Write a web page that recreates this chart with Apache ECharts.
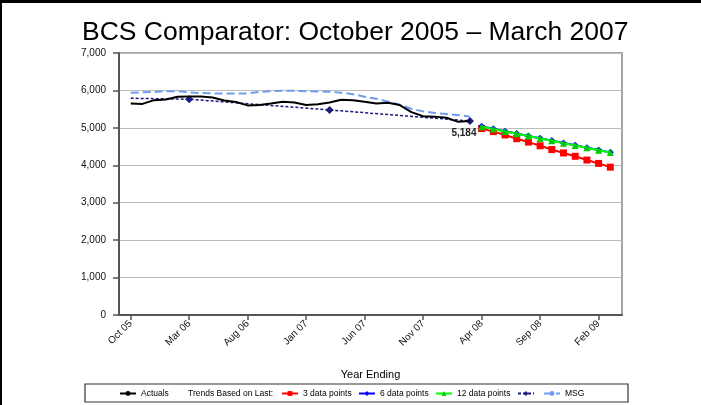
<!DOCTYPE html>
<html>
<head>
<meta charset="utf-8">
<script src="https://cdn.jsdelivr.net/npm/echarts@6/dist/echarts.min.js"></script>
<style>
  html, body { margin: 0; padding: 0; background: #fff; }
  #chart { width: 701px; height: 405px; }
</style>
</head>
<body>
<div id="chart"></div>
<script>
// month axis, Sep 05 .. Apr 09 (first and last are padding)
var months = ['Sep 05', 'Oct 05', 'Nov 05', 'Dec 05', 'Jan 06', 'Feb 06', 'Mar 06', 'Apr 06', 'May 06', 'Jun 06',
  'Jul 06', 'Aug 06', 'Sep 06', 'Oct 06', 'Nov 06', 'Dec 06', 'Jan 07', 'Feb 07', 'Mar 07', 'Apr 07',
  'May 07', 'Jun 07', 'Jul 07', 'Aug 07', 'Sep 07', 'Oct 07', 'Nov 07', 'Dec 07', 'Jan 08', 'Feb 08',
  'Mar 08', 'Apr 08', 'May 08', 'Jun 08', 'Jul 08', 'Aug 08', 'Sep 08', 'Oct 08', 'Nov 08', 'Dec 08',
  'Jan 09', 'Feb 09', 'Mar 09', 'Apr 09'];
var shownLabels = ['Oct 05', 'Mar 06', 'Aug 06', 'Jan 07', 'Jun 07', 'Nov 07', 'Apr 08', 'Sep 08', 'Feb 09'];

// Oct 05 .. Mar 08
var actuals = [5650, 5640, 5740, 5760, 5830, 5840, 5840, 5810, 5730, 5690,
  5600, 5610, 5650, 5700, 5680, 5610, 5630, 5680, 5750, 5740,
  5700, 5650, 5670, 5610, 5420, 5310, 5300, 5270, 5160, 5184];
var msg = [5940, 5950, 5960, 5980, 5980, 5950, 5930, 5920, 5920, 5920,
  5920, 5960, 5980, 5990, 5990, 5980, 5970, 5965, 5940, 5900,
  5830, 5780, 5700, 5620, 5510, 5440, 5400, 5370, 5340, 5300];

// yearly trend line (dark navy)
var trendMonths = ['Oct 05', 'Mar 06', 'Mar 07', 'Mar 08'];
var trendValues = [5790, 5765, 5478, 5184];

// Apr 08 .. Mar 09 projections
var trend3 = [4980, 4900, 4810, 4710, 4620, 4520, 4420, 4330, 4240, 4140, 4050, 3950];
var trend6 = [5040, 4976, 4912, 4848, 4785, 4722, 4659, 4596, 4533, 4470, 4406, 4345];
var trend12 = [5030, 4968, 4905, 4842, 4780, 4716, 4655, 4592, 4530, 4466, 4404, 4340];

function pad(values, startMonth) {
  var out = [];
  var start = months.indexOf(startMonth);
  for (var i = 0; i < months.length; i++) {
    var j = i - start;
    out.push(j >= 0 && j < values.length ? values[j] : null);
  }
  return out;
}

var font = 'Liberation Sans, Arial, sans-serif';
var chart = echarts.init(document.getElementById('chart'));

var trendData = trendMonths.map(function (m, i) {
  var item = { value: [m, trendValues[i]] };
  if (i === 0) item.symbol = 'none';
  if (i === trendMonths.length - 1) {
    item.label = {
      show: true, position: 'bottom', distance: 3, offset: [-6, 0],
      formatter: '5,184', fontSize: 10, fontWeight: 'bold', color: '#222', fontFamily: font
    };
  }
  return item;
});

var legendText = { fontSize: 8.5, color: '#000', fontFamily: font };
// one legend per entry so the spacing follows the original box
var legendSpots = [['Actuals', 119], ['3 data points', 281], ['6 data points', 358],
  ['12 data points', 435], [' ', 517], ['MSG', 543]];
var legends = legendSpots.map(function (s) {
  return {
    left: s[1], top: 389, padding: 0,
    itemWidth: 16, itemHeight: 6,
    textStyle: legendText,
    data: [s[0]]
  };
});

var option = {
  backgroundColor: '#fff',
  animation: false,
  title: {
    text: 'BCS Comparator: October 2005 \u2013 March 2007',
    left: 77,
    top: 14,
    textStyle: { fontSize: 26.5, fontWeight: 'normal', color: '#000', fontFamily: font }
  },
  legend: legends,
  grid: {
    left: 119, right: 79, top: 53, bottom: 90,
    show: true, borderColor: '#888', borderWidth: 1.5
  },
  xAxis: {
    type: 'category',
    data: months,
    boundaryGap: false,
    name: 'Year Ending',
    nameLocation: 'middle',
    nameGap: 54,
    nameTextStyle: { fontSize: 11, color: '#000', fontFamily: font },
    axisLine: { lineStyle: { color: '#555', width: 2 } },
    axisTick: {
      show: true, length: 5, lineStyle: { color: '#555', width: 1.5 },
      interval: function (i, v) { return shownLabels.indexOf(v) >= 0; }
    },
    axisLabel: {
      rotate: 45, fontSize: 10, color: '#111', fontFamily: font, margin: 7,
      interval: function (i, v) { return shownLabels.indexOf(v) >= 0; }
    },
    splitLine: { show: false }
  },
  yAxis: {
    type: 'value',
    min: 0, max: 7000, interval: 1000,
    axisLine: { show: true, lineStyle: { color: '#555', width: 2 } },
    axisTick: { show: true, length: 6, lineStyle: { color: '#555', width: 1.5 } },
    axisLabel: {
      fontSize: 10, color: '#111', fontFamily: font, margin: 13,
      formatter: function (v) { return v.toLocaleString('en-US'); }
    },
    splitLine: { lineStyle: { color: '#bbb', width: 1 } }
  },
  graphic: [
    { type: 'line', shape: { x1: 0, y1: 1.5, x2: 701, y2: 1.5 }, style: { stroke: '#000', lineWidth: 3 } },
    { type: 'line', shape: { x1: 1, y1: 0, x2: 1, y2: 405 }, style: { stroke: '#000', lineWidth: 2 } },
    { type: 'rect', shape: { x: 85, y: 384, width: 543, height: 18 }, style: { fill: 'none', stroke: '#333', lineWidth: 1.2 } },
    { type: 'text', x: 188, y: 393.5, style: { text: 'Trends Based on Last:', fontSize: 8.5, fill: '#000', fontFamily: font, verticalAlign: 'middle' } }
  ],
  series: [
    {
      name: 'MSG', type: 'line', data: pad(msg, 'Oct 05'), symbol: 'none', z: 2,
      lineStyle: { color: '#6f9cf0', width: 2, type: [8, 4] }, itemStyle: { color: '#6f9cf0' }
    },
    {
      name: ' ', type: 'line', data: trendData, symbol: 'diamond', symbolSize: 8, z: 3, showAllSymbol: true,
      lineStyle: { color: '#1a1a80', width: 1.5, type: [3, 2] }, itemStyle: { color: '#1a1a80' }
    },
    {
      name: 'Actuals', type: 'line', data: pad(actuals, 'Oct 05'), symbol: 'none', z: 4,
      lineStyle: { color: '#000', width: 2 }, itemStyle: { color: '#000' }
    },
    {
      name: '3 data points', type: 'line', data: pad(trend3, 'Apr 08'), symbol: 'rect', symbolSize: 7, z: 3, showAllSymbol: true,
      lineStyle: { color: '#ff0000', width: 2 }, itemStyle: { color: '#ff0000' }
    },
    {
      name: '6 data points', type: 'line', data: pad(trend6, 'Apr 08'), symbol: 'diamond', symbolSize: 7, z: 3, showAllSymbol: true,
      lineStyle: { color: '#0000ff', width: 2 }, itemStyle: { color: '#0000ff' }
    },
    {
      name: '12 data points', type: 'line', data: pad(trend12, 'Apr 08'), symbol: 'triangle', symbolSize: 7, z: 4, showAllSymbol: true,
      lineStyle: { color: '#00ff00', width: 2 }, itemStyle: { color: '#00cc00' }
    }
  ]
};
chart.setOption(option);
</script>
</body>
</html>
